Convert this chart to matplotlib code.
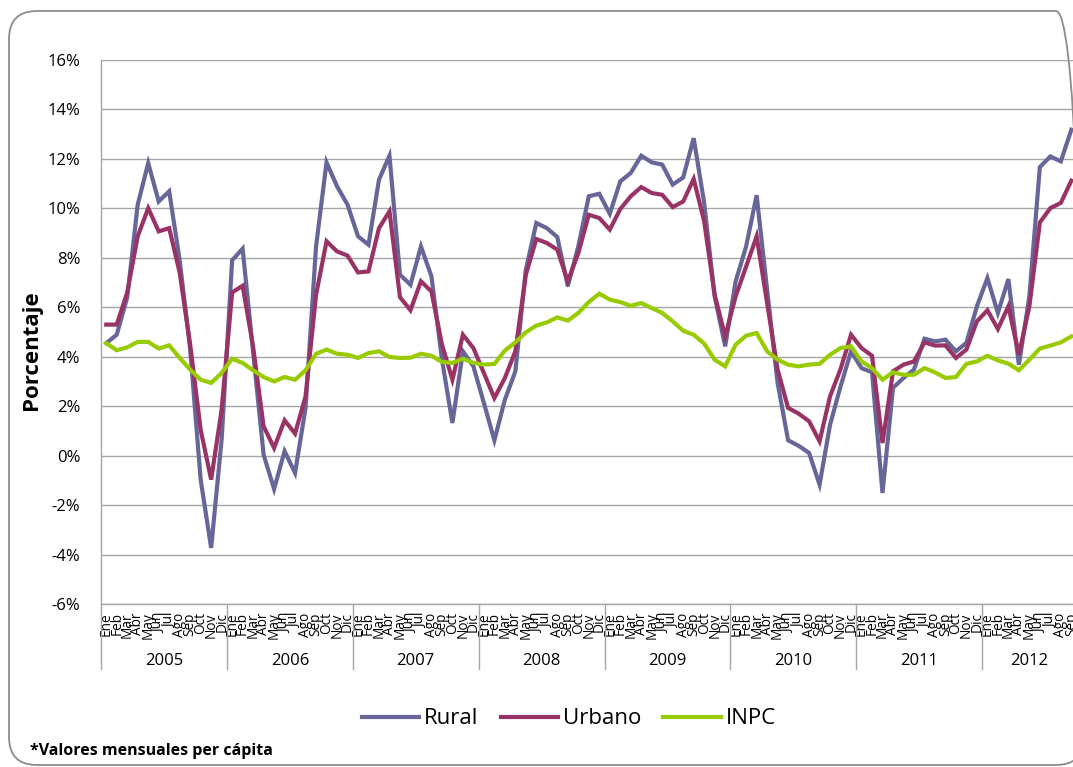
import numpy as np
import matplotlib.pyplot as plt
from matplotlib.patches import FancyBboxPatch
from matplotlib.transforms import blended_transform_factory

plt.rcParams['font.family'] = ['Open Sans', 'DejaVu Sans']

# meses y años del eje de categorias
meses = ['Ene', 'Feb', 'Mar', 'Abr', 'May', 'Jun', 'Jul', 'Ago', 'Sep', 'Oct', 'Nov', 'Dic']
anios = ['2005', '2006', '2007', '2008', '2009', '2010', '2011', '2012']
meses_2012 = 9  # Ene-Sep

# variacion anual (%), valores mensuales per capita
rural = [4.55, 4.89, 6.4, 10.15, 11.83, 10.28, 10.69, 7.9, 4.3, -0.97, -3.73, 0.65,
         7.9, 8.37, 4.2, 0.04, -1.35, 0.18, -0.7, 1.93, 8.46, 11.86, 10.89, 10.15,
         8.87, 8.53, 11.16, 12.13, 7.32, 6.91, 8.46, 7.25, 3.9, 1.32, 4.22, 3.61,
         2.13, 0.62, 2.26, 3.41, 7.52, 9.41, 9.2, 8.84, 6.85, 8.46, 10.49, 10.59,
         9.78, 11.09, 11.43, 12.13, 11.86, 11.77, 10.96, 11.25, 12.84, 10.22, 6.44, 4.42,
         7.05, 8.46, 10.53, 6.71, 2.94, 0.62, 0.4, 0.11, -1.17, 1.25, 2.8, 4.22,
         3.54, 3.37, -1.51, 2.74, 3.14, 3.48, 4.73, 4.62, 4.69, 4.22, 4.56, 6.04,
         7.18, 5.77, 7.14, 3.68, 6.44, 11.67, 12.1, 11.9, 13.18]
urbano = [5.3, 5.3, 6.6, 8.87, 10.01, 9.07, 9.2, 7.4, 4.5, 1.05, -0.97, 1.86,
          6.6, 6.87, 4.4, 1.19, 0.31, 1.43, 0.89, 2.4, 6.5, 8.67, 8.26, 8.09,
          7.41, 7.45, 9.2, 9.88, 6.41, 5.88, 7.05, 6.64, 4.5, 3.07, 4.89, 4.35,
          3.34, 2.33, 3.14, 4.22, 7.32, 8.76, 8.6, 8.33, 7.05, 8.19, 9.74, 9.61,
          9.14, 9.97, 10.49, 10.86, 10.62, 10.55, 10.05, 10.28, 11.19, 9.47, 6.51, 4.82,
          6.44, 7.65, 8.87, 6.17, 3.48, 1.93, 1.7, 1.39, 0.58, 2.4, 3.5, 4.89,
          4.35, 4.04, 0.51, 3.41, 3.68, 3.81, 4.58, 4.45, 4.46, 3.95, 4.29, 5.43,
          5.88, 5.12, 6.04, 4.08, 6.04, 9.43, 10.01, 10.22, 11.12]
inpc = [4.55, 4.26, 4.38, 4.6, 4.6, 4.33, 4.46, 3.95, 3.48, 3.07, 2.94, 3.34,
        3.92, 3.75, 3.45, 3.18, 3.0, 3.18, 3.07, 3.45, 4.12, 4.29, 4.12, 4.08,
        3.95, 4.15, 4.22, 3.99, 3.95, 3.96, 4.12, 4.04, 3.79, 3.75, 3.92, 3.75,
        3.68, 3.71, 4.25, 4.58, 4.99, 5.26, 5.39, 5.59, 5.46, 5.77, 6.21, 6.55,
        6.31, 6.21, 6.06, 6.17, 5.97, 5.77, 5.43, 5.05, 4.89, 4.53, 3.88, 3.61,
        4.49, 4.85, 4.96, 4.22, 3.88, 3.68, 3.61, 3.68, 3.71, 4.08, 4.35, 4.42,
        3.81, 3.54, 3.07, 3.37, 3.27, 3.27, 3.54, 3.37, 3.14, 3.18, 3.71, 3.81,
        4.04, 3.85, 3.72, 3.45, 3.88, 4.33, 4.45, 4.58, 4.82]

etiquetas = meses * (len(anios) - 1) + meses[:meses_2012]
x = np.arange(len(rural))

W, H = 1073, 767
fig = plt.figure(figsize=(W / 100, H / 100), dpi=100)

# area de trazado (se sale un poco por la derecha, igual que la grafica recortada)
left, right, top, bottom = 101, 101 + 93 * 10.49, 60, 604
ax = fig.add_axes([left / W, 1 - bottom / H, (right - left) / W, (bottom - top) / H])

ax.plot(x, rural, color='#666699', lw=3, label='Rural', solid_joinstyle='miter')
ax.plot(x, urbano, color='#993366', lw=3, label='Urbano', solid_joinstyle='miter')
ax.plot(x, inpc, color='#99CC00', lw=3, label='INPC', solid_joinstyle='miter')

ax.set_xlim(-0.5, len(x) - 0.5)
ax.set_ylim(-6, 16)
ax.set_yticks(np.arange(-6, 17, 2))
ax.set_yticklabels([f'{v}%' for v in range(-6, 17, 2)], fontsize=12)
ax.yaxis.grid(True, color='#a6a6a6', lw=1)
ax.set_axisbelow(True)
ax.tick_params(axis='y', length=0, pad=15, colors='#000000')

ax.set_xticks(x)
ax.set_xticklabels(etiquetas, rotation=90, fontsize=9.8, va='top', ha='center')
ax.tick_params(axis='x', length=0, pad=6)

for s in ['top', 'right']:
    ax.spines[s].set_visible(False)
for s in ['left', 'bottom']:
    ax.spines[s].set_color('#a6a6a6')
    ax.spines[s].set_linewidth(1)

# separadores y etiquetas de año bajo el eje
trans = blended_transform_factory(ax.transData, ax.transAxes)
for k, anio in enumerate(anios):
    x0 = -0.5 + 12 * k
    ax.plot([x0, x0], [0, -0.1195], color='#a6a6a6', lw=1, transform=trans, clip_on=False)
    n = 12 if k < len(anios) - 1 else meses_2012
    ax.text(x0 + n / 2, -0.104, anio, transform=trans, ha='center', va='center', fontsize=12)

fig.text(32 / W, 1 - 350 / H, 'Porcentaje', rotation=90, fontsize=16, fontweight='bold',
         ha='center', va='center')

fig.legend(loc='center', bbox_to_anchor=(0.530, 1 - 719 / H), ncol=3, frameon=False,
           fontsize=16, handlelength=2.6, handletextpad=0.2, columnspacing=1.0)

fig.text(30 / W, 1 - 751 / H, '*Valores mensuales per cápita', fontsize=11.5,
         fontweight='bold', ha='left', va='center')

# marco redondeado del grafico
marco = FancyBboxPatch((0.09, 0.02), 10.75, 7.54, boxstyle='round,pad=0,rounding_size=0.28',
                       transform=fig.dpi_scale_trans, facecolor='none', edgecolor='#8c8c8c',
                       lw=1.3)
fig.patches.append(marco)

fig.savefig('out.png', dpi=100)
